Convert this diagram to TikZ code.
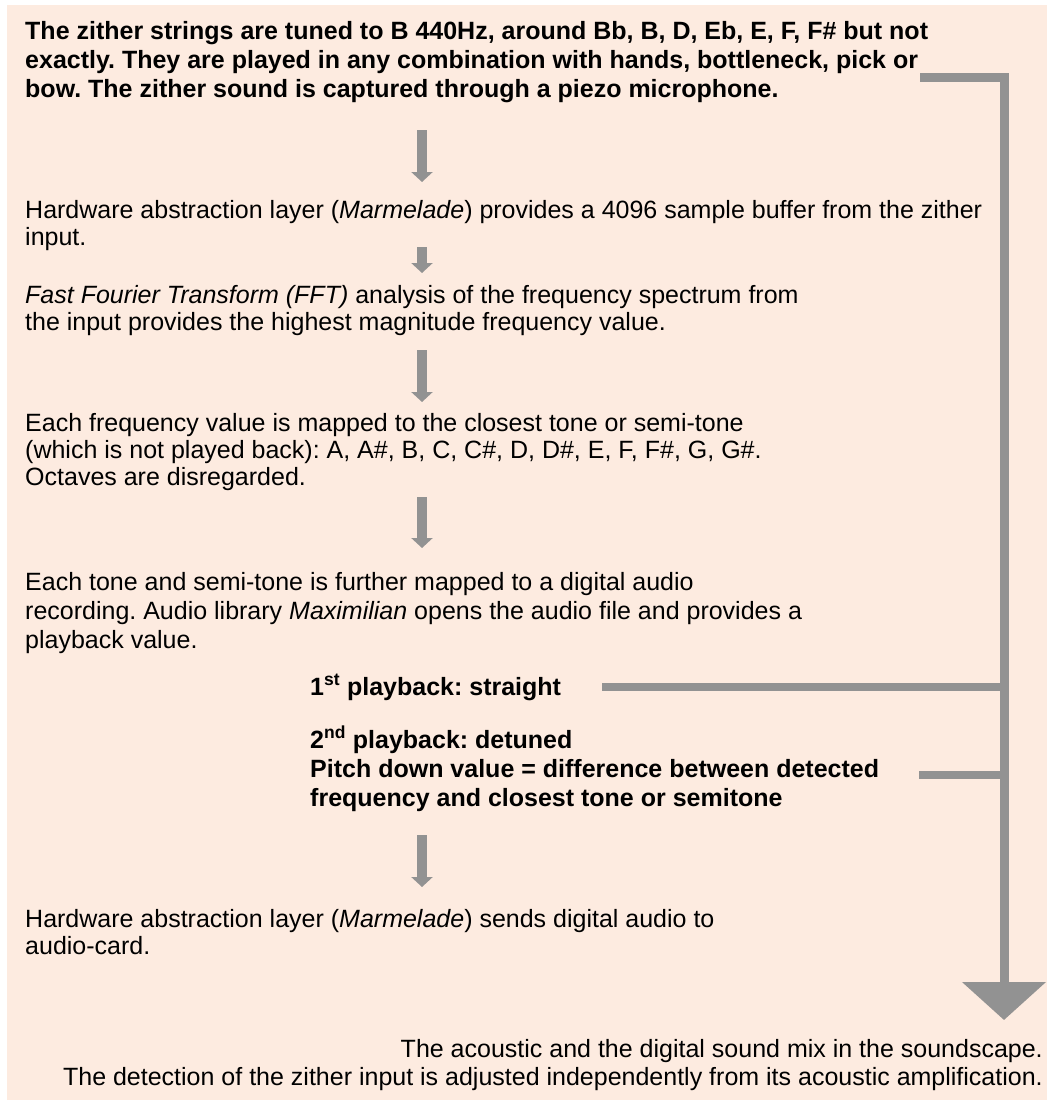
\documentclass[tikz,border=0pt]{standalone}
\usepackage{fontspec}
\setmainfont{Liberation Sans}
\usetikzlibrary{arrows.meta}
\frenchspacing
\definecolor{peach}{HTML}{FDEBE0}
\definecolor{flowgray}{HTML}{929292}
\tikzset{
  txt/.style={anchor=base west, align=left, inner sep=0pt,
    font=\fontsize{25}{27}\selectfont},
  boldtxt/.style={txt, font=\fontsize{25}{29}\selectfont\bfseries},
  stepflow/.style={draw=flowgray, line width=10pt,
    -{Triangle[width=21pt,length=10pt]}},
  branch/.style={draw=flowgray, line width=8pt},
}
\begin{document}
\begin{tikzpicture}[x=1pt,y=-1pt]
  % page and background
  \useasboundingbox (0,0) rectangle (1047,1100);
  \fill[peach] (7,5) rectangle (1047,1100);
  % input from the zither (base = last line)
  \node[boldtxt] (zither) at (25,97) {The zither strings are tuned to B 440Hz, around Bb, B, D, Eb, E, F, F\# but not\\exactly. They are played in any combination with hands, bottleneck, pick or\\bow. The zither sound is captured through a piezo microphone.};
  % processing steps
  \node[txt] (hal) at (25,245) {Hardware abstraction layer (\textit{Marmelade}) provides a 4096 sample buffer from the zither\\input.};
  \node[txt] (fft) at (25,330) {\textit{Fast Fourier Transform (FFT)} analysis of the frequency spectrum from\\the input provides the highest magnitude frequency value.};
  \node[txt] (tone) at (25,485) {Each frequency value is mapped to the closest tone or semi-tone\\(which is not played back): A, A\#, B, C, C\#, D, D\#, E, F, F\#, G, G\#.\\Octaves are disregarded.};
  \node[txt, font=\fontsize{25}{29}\selectfont] (rec) at (25,648) {Each tone and semi-tone is further mapped to a digital audio\\recording. Audio library \textit{Maximilian} opens the audio file and provides a\\playback value.};
  % the two playbacks
  \node[boldtxt] (straight) at (310,695) {1\textsuperscript{st} playback: straight};
  \node[boldtxt] (detuned) at (310,806) {2\textsuperscript{nd} playback: detuned\\Pitch down value = difference between detected\\frequency and closest tone or semitone};
  % output
  \node[txt] (card) at (25,954) {Hardware abstraction layer (\textit{Marmelade}) sends digital audio to\\audio-card.};
  \node[txt, anchor=base east, align=right, font=\fontsize{25}{28}\selectfont] (mix) at (1043,1085) {The acoustic and the digital sound mix in the soundscape.\\The detection of the zither input is adjusted independently from its acoustic amplification.};
  % small step arrows
  \foreach \i/\ya/\yb in {1/130/182, 2/247/273, 3/350/402, 4/497/548, 5/835/887} {
    \coordinate (s\i) at (422,\ya);
    \coordinate (e\i) at (422,\yb);
    \draw[stepflow] (s\i) -- (e\i);
  }
  % acoustic trunk on the right
  \coordinate (trunktop) at (920,77);
  \coordinate (trunktip) at (1004,1020);
  \coordinate (join1) at (1004,687);
  \coordinate (join2) at (1004,775);
  \coordinate (from1) at (602,687);
  \coordinate (from2) at (919,775);
  \draw[branch, line width=9pt, -{Triangle[width=82pt,length=38pt]}] (trunktop) -| (trunktip);
  \draw[branch] (from1) -- (join1);
  \draw[branch] (from2) -- (join2);
\end{tikzpicture}
\end{document}
